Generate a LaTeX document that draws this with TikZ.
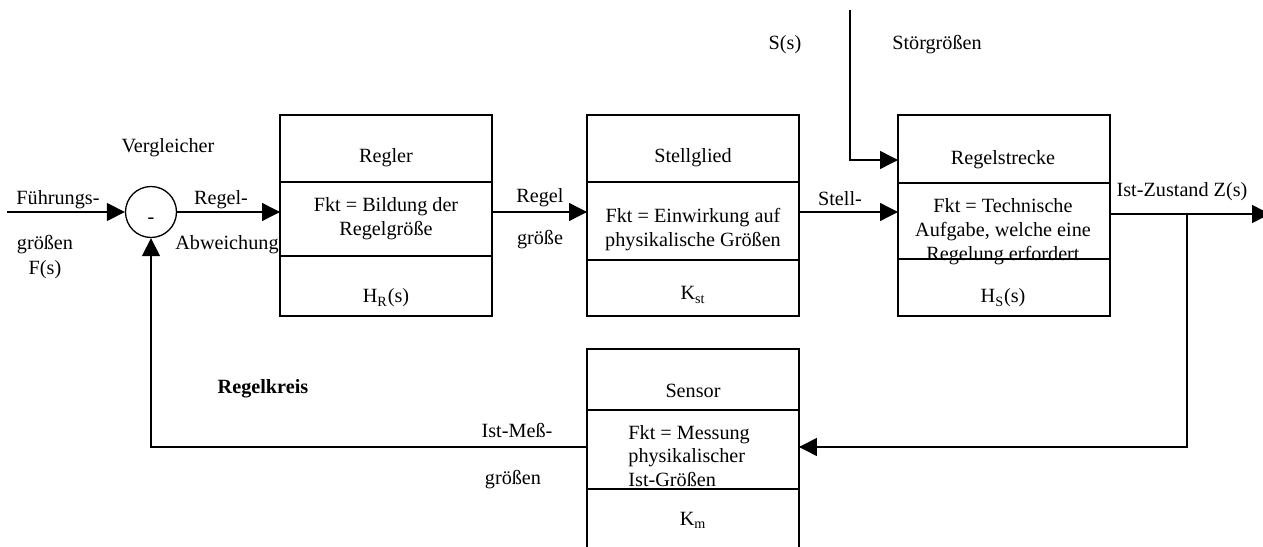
\documentclass[tikz,border=0pt]{standalone}
\usepackage{fontspec}
\setmainfont{Liberation Serif}
\usetikzlibrary{arrows.meta, positioning, calc}

\begin{document}
\begin{tikzpicture}[
    x=0.02cm, y=-0.02cm,
    font=\fontsize{11.5}{13.6}\selectfont,
    line width=0.75pt,
    >={Triangle[length=0.36cm, width=0.36cm]},
    frame/.style={
        draw,
        anchor=north west,
        inner sep=0pt,
        outer sep=0pt,
        minimum width=4.24cm,
        minimum height=#1
    },
    txt/.style={align=center, inner sep=1pt},
    arrow/.style={->}
]
\clip (0,0) rectangle (1263,547);

% Vergleicher
\node[circle, draw, minimum size=1.02cm, inner sep=0pt, text height=1.3em, text depth=0pt] (cmp) at (151,212) {-};
\node[txt] (cmpT) at (168,148) {Vergleicher};

% Regler
\node[frame=4.02cm] (regler) at (280,115) {};
\draw (regler.west |- 0,182) -- (regler.east |- 0,182);
\draw (regler.west |- 0,256) -- (regler.east |- 0,256);
\node[txt] (reglerT) at (386,158) {Regler};
\node[txt] (reglerF) at (386,219) {Fkt = Bildung der\\Regelgröße};
\node[txt] (reglerH) at (386,298) {H\textsubscript{R}(s)};

% Stellglied
\node[frame=4.02cm] (stell) at (587,115) {};
\draw (stell.west |- 0,182) -- (stell.east |- 0,182);
\draw (stell.west |- 0,260) -- (stell.east |- 0,260);
\node[txt] (stellT) at (693,158) {Stellglied};
\node[txt] (stellF) at (693,230) {Fkt = Einwirkung auf\\physikalische Größen};
\node[txt] (stellK) at (693,295) {K\textsubscript{st}};

% Regelstrecke
\node[frame=4.02cm] (strecke) at (898,115) {};
\draw (strecke.west |- 0,183) -- (strecke.east |- 0,183);
\draw (strecke.west |- 0,259) -- (strecke.east |- 0,259);
\node[txt] (streckeT) at (1003,160) {Regelstrecke};
\node[txt] (streckeF) at (1003,232) {Fkt = Technische\\Aufgabe, welche eine\\Regelung erfordert};
\node[txt] (streckeH) at (1003,298) {H\textsubscript{S}(s)};

% Sensor
\node[frame=4.0cm] (sensor) at (587,349) {};
\draw (sensor.west |- 0,410) -- (sensor.east |- 0,410);
\draw (sensor.west |- 0,489) -- (sensor.east |- 0,489);
\node[txt] (sensorT) at (693,391) {Sensor};
\node[align=left, anchor=west, inner sep=1pt] (sensorF) at (626,456) {Fkt = Messung\\physikalischer\\Ist-Größen};
\node[txt] (sensorK) at (693,520) {K\textsubscript{m}};

% Signale
\coordinate (in) at (7,212);
\coordinate (out) at (1270,214);
\coordinate (br) at (1187,214);
\coordinate (fb) at (1187,447);
\coordinate (dist) at (850,10);

\draw[arrow] (in) -- (cmp);
\draw[arrow] (cmp) -- (cmp -| regler.west);
\draw[arrow] (regler.east |- cmp) -- (stell.west |- cmp);
\draw[arrow] (stell.east |- cmp) -- (strecke.west |- cmp);
\draw[arrow] (strecke.east |- out) -- (out);
\draw[arrow] (br) -- (fb) -- (sensor.east |- fb);
\draw[arrow] (sensor.west |- fb) -| (cmp);
\draw[arrow] (dist) |- (strecke.west |- 0,160);

% Beschriftungen
\node[txt] (fuehr) at (58,200) {Führungs-};
\node[txt] (fuehr2) at (45,245) {größen};
\node[txt] (fs) at (45,270) {F(s)};
\node[txt] (abw) at (221,200) {Regel-};
\node[txt] (abw2) at (227,245) {Abweichung};
\node[txt] (rg) at (540,198) {Regel};
\node[txt] (rg2) at (540,240) {größe};
\node[txt] (sg) at (840,199) {Stell-};
\node[txt] (ss) at (785,45) {S(s)};
\node[txt] (stoer) at (937,45) {Störgrößen};
\node[txt] (ist) at (1182,192) {Ist-Zustand Z(s)};
\node[txt, font=\fontsize{11.5}{13.6}\selectfont\bfseries] (kreis) at (263,389) {Regelkreis};
\node[txt] (mess) at (517,430) {Ist-Meß-};
\node[txt] (mess2) at (513,480) {größen};

\end{tikzpicture}
\end{document}
